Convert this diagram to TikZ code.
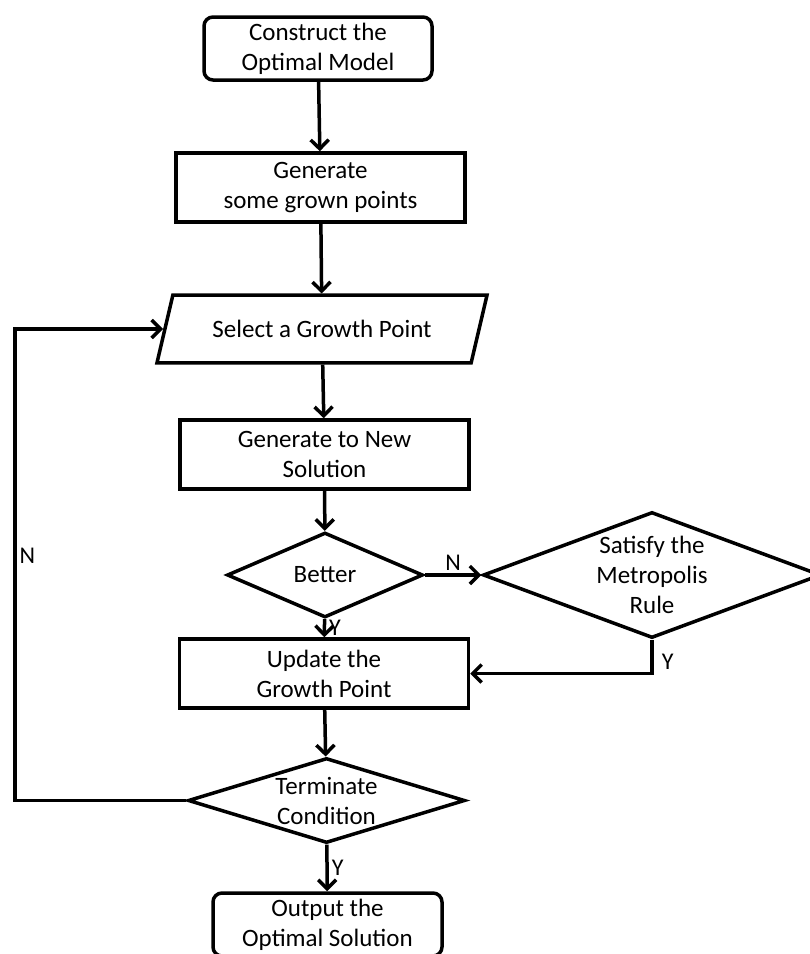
\documentclass[tikz,border=0pt]{standalone}
\usepackage{fontspec}
\setmainfont{Carlito}
\usetikzlibrary{shapes.geometric,arrows.meta}

\begin{document}
\begin{tikzpicture}[x=1pt,y=-1pt,line width=3.5pt,
  >={Straight Barb[length=9pt,width=18pt]},
  every node/.style={font=\fontsize{25}{30}\selectfont,align=center},
  endbox/.style={draw,rounded corners=9pt,minimum width=228pt,minimum height=63pt,inner sep=0pt},
  procbox/.style={draw,minimum width=289pt,minimum height=69pt,inner sep=0pt},
  iobox/.style={draw,trapezium,trapezium left angle=76.8,trapezium right angle=103.2,
    trapezium stretches body,minimum width=330pt,inner xsep=0pt,inner ysep=25pt},
  testbox/.style={draw,diamond,inner sep=-4pt},
  lab/.style={font=\fontsize{24}{28}\selectfont,inner sep=3pt}]
\useasboundingbox (0,0) rectangle (810,954);
% boxes
\node[endbox] (start) at (318,48.5) {Construct the\\Optimal Model};
\node[procbox] (seed) at (320.5,187.5) {Generate\\some grown points};
\node[iobox] (pick) at (322,329) {Select a Growth Point};
\node[procbox] (newsol) at (324.5,454.5) {Generate to New\\Solution};
\node[testbox,aspect=2.3,minimum width=196pt,minimum height=85pt] (better) at (325,575) {Better};
\node[testbox,aspect=2.68,minimum width=338pt,minimum height=126pt] (metro) at (652,575) {Satisfy the\\Metropolis\\Rule};
\node[procbox] (update) at (324,673.5) {Update the\\Growth Point};
\node[testbox,aspect=3.26,minimum width=277pt,minimum height=85pt] (stop) at (326.5,800.5) {Terminate\\Condition};
\node[endbox,minimum width=229pt] (output) at (327.5,924.5) {Output the\\Optimal Solution};
\coordinate (back) at (15,800.5);
% arrows
\draw[->] (start) -- (seed);
\draw[->] (seed) -- (pick);
\draw[->] (pick) -- (newsol);
\draw[->] (newsol) -- (better);
\draw[->] (better) -- node[lab,above] {N} (metro);
\draw[->] (better) -- node[lab,right] {Y} (update);
\draw[->] (metro.south) |- node[lab,pos=0.33,right,inner sep=8pt] {Y} (update.east);
\draw[->] (update) -- (stop);
\draw[->] (stop.west) -- (back) |- node[lab,pos=0.26,right] {N} (pick.west);
\draw[->] (stop) -- node[lab,right] {Y} (output);
\end{tikzpicture}
\end{document}
